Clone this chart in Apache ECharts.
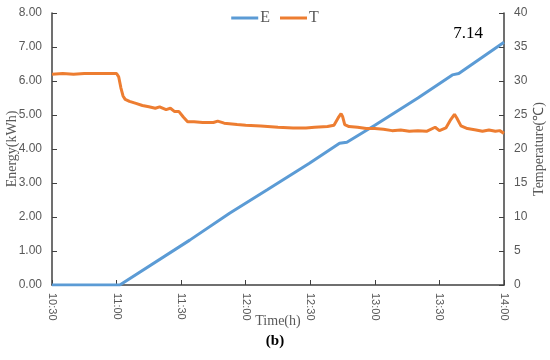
<!DOCTYPE html>
<html>
<head>
<meta charset="utf-8">
<script src="https://cdn.jsdelivr.net/npm/echarts@6/dist/echarts.min.js"></script>
<style>
  html, body { margin: 0; padding: 0; background: #fff; }
  #chart { width: 550px; height: 360px; }
</style>
</head>
<body>
<div id="chart"></div>
<script>
// minutes since 10:30
const timeLabels = ['10:30', '11:00', '11:30', '12:00', '12:30', '13:00', '13:30', '14:00']

const eTimes = [0, 31.5, 64, 82.5, 100, 119.6, 133.6, 137, 150, 170, 186, 189, 210]
const eValues = [0, 0, 1.32, 2.11, 2.8, 3.58, 4.17, 4.2, 4.7, 5.5, 6.18, 6.22, 7.14]

const tTimes = [0, 5, 10, 15, 20, 25, 30, 31, 32, 33, 34, 36, 39, 42, 45, 48, 50, 53, 55, 57, 59, 61, 63, 66, 70, 75, 77, 80, 86, 90, 97, 105, 112, 118, 122, 128, 131, 133, 134.3, 135, 136, 138, 142, 146, 150, 154, 158, 162, 166, 170, 174, 178, 180, 183, 185, 187, 188, 190, 193, 197, 200, 203, 206, 208, 210]
const tValues = [31.0, 31.1, 31.0, 31.1, 31.1, 31.1, 31.1, 30.6, 29.0, 27.8, 27.3, 27.0, 26.7, 26.4, 26.2, 26.0, 26.2, 25.8, 26.0, 25.5, 25.5, 24.7, 24.0, 24.0, 23.9, 23.9, 24.1, 23.8, 23.6, 23.5, 23.4, 23.2, 23.1, 23.1, 23.2, 23.3, 23.5, 24.6, 25.2, 24.8, 23.6, 23.3, 23.2, 23.0, 23.0, 22.9, 22.7, 22.8, 22.6, 22.7, 22.6, 23.2, 22.7, 23.1, 24.2, 25.1, 24.6, 23.4, 23.0, 22.8, 22.6, 22.8, 22.6, 22.7, 22.3]

const endLabel = '7.14'

const chart = echarts.init(document.getElementById('chart'))

const axisColor = '#404040'
const labelColor = '#595959'
const serif = 'Liberation Serif'

chart.setOption({
  animation: false,
  grid: { left: 52, right: 46, top: 13, bottom: 75, containLabel: false, outerBoundsMode: 'none' },
  title: {
    text: '{n|(}{b|b}{n|)}',
    left: 'center',
    bottom: 6,
    textStyle: {
      rich: {
        n: { fontFamily: serif, fontSize: 15, color: '#000' },
        b: { fontFamily: serif, fontSize: 15, fontWeight: 'bold', color: '#000' }
      }
    }
  },
  legend: {
    top: 5,
    left: 'center',
    icon: 'rect',
    itemWidth: 27,
    itemHeight: 3,
    itemGap: 10,
    textStyle: { fontFamily: serif, fontSize: 16, color: labelColor, padding: [0, 0, 0, -3] },
    data: ['E', 'T']
  },
  xAxis: {
    type: 'value',
    min: 0,
    max: 210,
    interval: 30,
    name: 'Time(h)',
    nameLocation: 'middle',
    nameGap: 29,
    nameMoveOverlap: false,
    nameTextStyle: { fontFamily: serif, fontSize: 14, color: labelColor },
    axisLine: { lineStyle: { color: axisColor, width: 1.5 } },
    axisTick: { inside: true, length: 5, lineStyle: { color: axisColor } },
    splitLine: { show: false },
    axisLabel: {
      rotate: -90,
      margin: 8,
      fontFamily: 'Liberation Sans',
      fontSize: 11,
      color: labelColor,
      formatter: v => timeLabels[Math.round(v / 30)]
    }
  },
  yAxis: [
    {
      type: 'value',
      min: 0,
      max: 8,
      interval: 1,
      name: 'Energy(kWh)',
      nameLocation: 'middle',
      nameRotate: 90,
      nameGap: 33,
      nameMoveOverlap: false,
      nameTextStyle: { fontFamily: serif, fontSize: 14, color: labelColor },
      axisLine: { show: true, lineStyle: { color: axisColor, width: 1.5 } },
      axisTick: { show: true, inside: true, length: 5, lineStyle: { color: axisColor } },
      splitLine: { show: false },
      axisLabel: {
        fontFamily: 'Liberation Sans',
        fontSize: 12,
        color: labelColor,
        margin: 10,
        formatter: v => v.toFixed(2)
      }
    },
    {
      type: 'value',
      min: 0,
      max: 40,
      interval: 5,
      name: 'Temperature(℃)',
      nameLocation: 'middle',
      nameRotate: 90,
      nameGap: 28,
      nameMoveOverlap: false,
      nameTextStyle: { fontFamily: serif, fontSize: 14, color: labelColor },
      axisLine: { show: true, lineStyle: { color: axisColor, width: 1.5 } },
      axisTick: { show: true, inside: true, length: 5, lineStyle: { color: axisColor } },
      splitLine: { show: false },
      axisLabel: {
        fontFamily: 'Liberation Sans',
        fontSize: 12,
        color: labelColor,
        margin: 10
      }
    }
  ],
  series: [
    {
      name: 'E',
      type: 'line',
      yAxisIndex: 0,
      symbol: 'none',
      lineStyle: { color: '#5B9BD5', width: 3 },
      itemStyle: { color: '#5B9BD5' },
      data: eTimes.map((t, i) => [t, eValues[i]]),
      markPoint: {
        symbol: 'circle',
        symbolSize: 1,
        itemStyle: { color: 'rgba(0,0,0,0)' },
        label: {
          show: true,
          position: 'inside',
          offset: [-36, -9],
          fontFamily: serif,
          fontSize: 17,
          color: '#000',
          formatter: endLabel
        },
        data: [{ coord: [eTimes[eTimes.length - 1], eValues[eValues.length - 1]] }]
      }
    },
    {
      name: 'T',
      type: 'line',
      yAxisIndex: 1,
      symbol: 'none',
      lineStyle: { color: '#ED7D31', width: 3 },
      itemStyle: { color: '#ED7D31' },
      data: tTimes.map((t, i) => [t, tValues[i]])
    }
  ]
})
</script>
</body>
</html>
